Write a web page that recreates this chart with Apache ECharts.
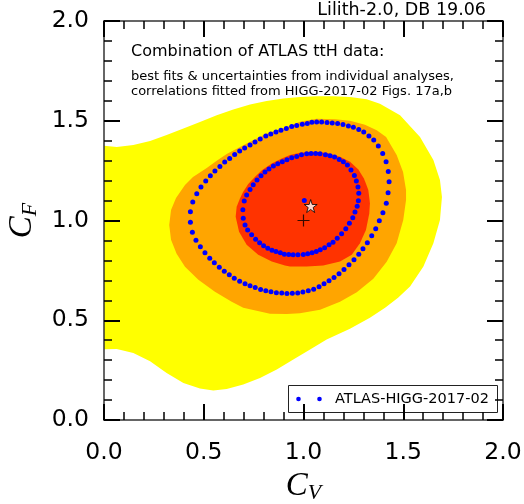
<!DOCTYPE html>
<html><head><meta charset="utf-8">
<script src="https://cdn.jsdelivr.net/npm/echarts@6/dist/echarts.min.js"></script>
<style>html,body{margin:0;padding:0;background:#fff}#c{width:524px;height:504px}</style>
</head><body><div id="c"></div>
<script>
// ---- data ----
const axisTicks = [0.0, 0.5, 1.0, 1.5, 2.0];
const yellowRegion = [[0,1.375],[0.064,1.369],[0.147,1.378],[0.231,1.398],[0.314,1.428],[0.398,1.461],[0.481,1.494],[0.565,1.528],[0.648,1.556],[0.732,1.581],[0.815,1.599],[0.899,1.611],[0.982,1.619],[1.066,1.623],[1.149,1.623],[1.233,1.619],[1.317,1.608],[1.383,1.585],[1.484,1.528],[1.584,1.419],[1.651,1.303],[1.684,1.203],[1.694,1.118],[1.684,1.003],[1.651,0.886],[1.601,0.769],[1.534,0.669],[1.474,0.613],[1.409,0.563],[1.333,0.513],[1.233,0.458],[1.116,0.403],[1.033,0.353],[0.949,0.303],[0.866,0.253],[0.782,0.211],[0.698,0.178],[0.615,0.156],[0.548,0.148],[0.481,0.158],[0.398,0.186],[0.314,0.236],[0.231,0.294],[0.147,0.336],[0.064,0.356],[0,0.355]];
const orangeRegion = [[0.982,1.495],[1.066,1.510],[1.158,1.508],[1.233,1.500],[1.308,1.480],[1.367,1.453],[1.414,1.418],[1.467,1.328],[1.499,1.243],[1.514,1.153],[1.514,1.103],[1.500,1.003],[1.467,0.886],[1.417,0.793],[1.350,0.708],[1.267,0.640],[1.183,0.593],[1.083,0.553],[0.982,0.535],[0.916,0.531],[0.832,0.533],[0.782,0.544],[0.698,0.563],[0.640,0.593],[0.556,0.643],[0.473,0.703],[0.406,0.768],[0.364,0.833],[0.336,0.903],[0.327,0.978],[0.336,1.053],[0.361,1.113],[0.406,1.178],[0.446,1.218],[0.515,1.263],[0.565,1.300],[0.615,1.333],[0.715,1.386],[0.816,1.436],[0.916,1.469]];
const redRegion = [[0.932,1.328],[0.982,1.340],[1.049,1.344],[1.116,1.339],[1.183,1.319],[1.233,1.294],[1.275,1.256],[1.303,1.211],[1.325,1.153],[1.333,1.086],[1.330,1.036],[1.313,0.953],[1.283,0.886],[1.242,0.828],[1.183,0.794],[1.099,0.774],[1.016,0.769],[0.932,0.769],[0.907,0.774],[0.841,0.794],[0.773,0.828],[0.715,0.878],[0.677,0.944],[0.660,1.019],[0.665,1.069],[0.682,1.111],[0.698,1.144],[0.723,1.183],[0.757,1.219],[0.793,1.253],[0.841,1.286],[0.891,1.311]];
const outerContour = [[0.966,1.476],[0.941,1.471],[0.914,1.461],[0.887,1.453],[0.862,1.444],[0.836,1.434],[0.811,1.423],[0.783,1.409],[0.757,1.394],[0.732,1.379],[0.705,1.363],[0.680,1.348],[0.655,1.331],[0.630,1.311],[0.605,1.293],[0.581,1.271],[0.556,1.248],[0.533,1.224],[0.510,1.198],[0.486,1.168],[0.465,1.134],[0.445,1.093],[0.433,1.044],[0.433,0.991],[0.443,0.941],[0.461,0.901],[0.483,0.868],[0.506,0.838],[0.530,0.811],[0.553,0.788],[0.578,0.766],[0.603,0.746],[0.628,0.728],[0.653,0.711],[0.680,0.696],[0.707,0.683],[0.732,0.673],[0.758,0.664],[0.785,0.654],[0.811,0.648],[0.837,0.643],[0.864,0.638],[0.891,0.636],[0.917,0.634],[0.944,0.635],[0.971,0.637],[0.997,0.641],[1.024,0.648],[1.051,0.656],[1.078,0.668],[1.103,0.683],[1.128,0.698],[1.153,0.714],[1.178,0.733],[1.203,0.754],[1.228,0.778],[1.253,0.803],[1.277,0.831],[1.298,0.858],[1.320,0.889],[1.342,0.924],[1.362,0.959],[1.380,0.999],[1.398,1.039],[1.415,1.086],[1.424,1.139],[1.429,1.194],[1.425,1.246],[1.414,1.294],[1.397,1.336],[1.375,1.373],[1.352,1.403],[1.328,1.424],[1.302,1.443],[1.277,1.456],[1.250,1.468],[1.225,1.474],[1.198,1.481],[1.171,1.486],[1.144,1.489],[1.118,1.491],[1.091,1.494],[1.066,1.494],[1.042,1.493],[1.019,1.486],[0.994,1.483]];
const innerContour = [[0.966,1.321],[0.941,1.314],[0.917,1.304],[0.894,1.294],[0.871,1.284],[0.849,1.273],[0.827,1.258],[0.807,1.243],[0.787,1.224],[0.767,1.203],[0.748,1.179],[0.732,1.156],[0.715,1.128],[0.703,1.098],[0.696,1.054],[0.698,1.011],[0.707,0.978],[0.720,0.953],[0.740,0.929],[0.760,0.906],[0.780,0.889],[0.800,0.874],[0.821,0.861],[0.842,0.851],[0.862,0.844],[0.884,0.838],[0.904,0.831],[0.926,0.829],[0.948,0.828],[0.972,0.828],[0.999,0.829],[1.021,0.833],[1.043,0.838],[1.064,0.844],[1.084,0.853],[1.106,0.864],[1.128,0.879],[1.148,0.891],[1.169,0.911],[1.191,0.933],[1.212,0.959],[1.230,0.986],[1.247,1.014],[1.258,1.043],[1.269,1.071],[1.275,1.099],[1.277,1.136],[1.273,1.168],[1.265,1.198],[1.255,1.226],[1.238,1.253],[1.220,1.278],[1.200,1.294],[1.179,1.306],[1.156,1.318],[1.133,1.324],[1.110,1.329],[1.083,1.334],[1.061,1.336],[1.038,1.336],[1.016,1.334],[0.990,1.329]];
const atlasBestFit = [[1.004,1.100]];
const lilithBestFit = [[1.036,1.0725]];
const smPoint = [[1.0,1.0]];
const seriesName = 'ATLAS-HIGG-2017-02';

const regions = [yellowRegion, orangeRegion, redRegion];
const regionColors = ['#ffff00', '#ffa500', '#ff3300'];

const chart = echarts.init(document.getElementById('c'), null, {renderer: 'canvas'});
const tickFont = 'DejaVu Sans';
function makeAxis(pos, showLabel, isX) {
  return {
    type: 'value', min: 0, max: 2, interval: 0.5, position: pos, z: 5,
    axisLine: {show: true, onZero: false, lineStyle: {color: '#333', width: 1.5}},
    axisTick: {show: true, inside: true, length: 16, lineStyle: {color: '#000', width: 2}},
    minorTick: {show: true, splitNumber: 5, length: 8, lineStyle: {color: '#000', width: 1.5}},
    splitLine: {show: false}, minorSplitLine: {show: false},
    axisLabel: {show: showLabel, fontFamily: tickFont, fontSize: 23.5, color: '#000',
      margin: isX ? 21 : 15, formatter: v => v.toFixed(1), showMinLabel: true, showMaxLabel: true}
  };
}
const nameRich = {
  c: {fontFamily: 'Liberation Serif', fontStyle: 'italic', fontSize: 33, color: '#000', lineHeight: 36, verticalAlign: 'middle'},
  s: {fontFamily: 'Liberation Serif', fontStyle: 'italic', fontSize: 22, color: '#000', lineHeight: 20, verticalAlign: 'bottom'}
};
const xMain = makeAxis('bottom', true, true);
xMain.name = '{c|C}{s|V}';
xMain.nameLocation = 'middle';
xMain.nameGap = 40;
xMain.nameTextStyle = {rich: nameRich};
const yMain = makeAxis('left', true, false);
yMain.name = '{c|C}{s|F}';
yMain.nameLocation = 'middle';
yMain.nameGap = 56;
yMain.nameTextStyle = {rich: nameRich};

const option = {
  animation: false,
  backgroundColor: '#fff',
  grid: {left: 104, right: 21, top: 21, bottom: 84, containLabel: false, outerBoundsMode: 'none'},
  xAxis: [xMain, makeAxis('top', false, true)],
  yAxis: [yMain, makeAxis('right', false, false)],
  graphic: [
    {type: 'text', z: 10, style: {x: 486, y: 10, text: 'Lilith-2.0, DB 19.06', font: '17.5px "DejaVu Sans"', fill: '#000', textAlign: 'right', textVerticalAlign: 'middle'}},
    {type: 'text', z: 10, style: {x: 131, y: 52, text: 'Combination of ATLAS ttH data:', font: '16px "DejaVu Sans"', fill: '#000', textAlign: 'left', textVerticalAlign: 'middle'}},
    {type: 'text', z: 10, style: {x: 131, y: 76.5, text: 'best fits & uncertainties from individual analyses,', font: '13px "DejaVu Sans"', fill: '#000', textAlign: 'left', textVerticalAlign: 'middle'}},
    {type: 'text', z: 10, style: {x: 131, y: 92, text: 'correlations fitted from HIGG-2017-02 Figs. 17a,b', font: '13px "DejaVu Sans"', fill: '#000', textAlign: 'left', textVerticalAlign: 'middle'}},
    // legend box
    {type: 'group', z: 20, children: [
      {type: 'rect', shape: {x: 288.5, y: 385.5, width: 209, height: 27}, style: {fill: '#fff', stroke: '#222', lineWidth: 1}},
      {type: 'circle', shape: {cx: 298.5, cy: 399, r: 2.3}, style: {fill: '#0000ff'}},
      {type: 'circle', shape: {cx: 319.5, cy: 399, r: 2.3}, style: {fill: '#0000ff'}},
      {type: 'text', style: {x: 335, y: 399, text: seriesName, font: '14.5px "DejaVu Sans"', fill: '#000', textAlign: 'left', textVerticalAlign: 'middle'}}
    ]}
  ],
  series: [
    {
      type: 'custom', coordinateSystem: 'cartesian2d', silent: true, z: 1,
      data: regions.map((r, i) => [r[0][0], r[0][1], i]),
      encode: {x: 0, y: 1},
      renderItem: function (params, api) {
        const idx = params.dataIndex;
        const pts = regions[idx].map(p => api.coord(p));
        return {type: 'polygon', shape: {points: pts}, style: {fill: regionColors[idx], stroke: null}};
      }
    },
    {
      name: seriesName, type: 'scatter', z: 3, symbol: 'circle', symbolSize: 5,
      itemStyle: {color: '#0000ff', opacity: 1},
      data: outerContour.concat(innerContour, atlasBestFit)
    },
    {
      name: 'best fit', type: 'scatter', z: 4, symbolSize: 13,
      symbol: 'path://M50,0 L61.2,34.6 L97.6,34.5 L68.1,55.9 L79.4,90.5 L50,69 L20.6,90.5 L31.9,55.9 L2.4,34.5 L38.8,34.6 Z',
      itemStyle: {color: '#fff', borderColor: '#000', borderWidth: 1},
      data: lilithBestFit
    },
    {
      name: 'SM', type: 'scatter', z: 4, symbolSize: 12,
      symbol: 'path://M0,5 L10,5 M5,0 L5,10',
      itemStyle: {color: 'rgba(0,0,0,0)', borderColor: '#000', borderWidth: 1.2},
      data: smPoint
    }
  ]
};
chart.setOption(option);
</script></body></html>
